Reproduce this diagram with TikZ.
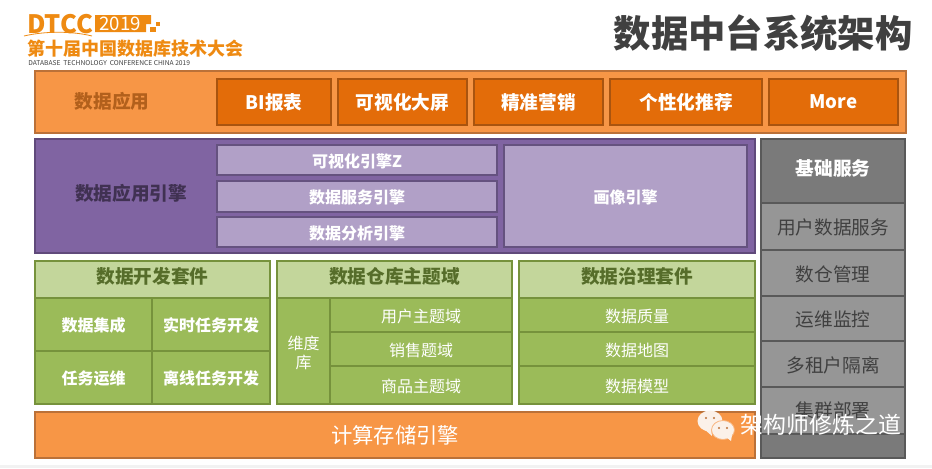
\documentclass[tikz,border=0pt]{standalone}
\usepackage{fontspec}
\setmainfont{Noto Sans CJK SC}
\begin{document}
\begin{tikzpicture}[x=0.75pt,y=-0.75pt,
  outerorange/.style={fill=colOrange, draw=colOrangeDk, line width=1.5pt},
  appbox/.style={fill=colApp, draw=colAppDk, line width=1.5pt, text=white, font=\fontsize{14}{16}\bfseries},
  outerpurple/.style={fill=colPurple, draw=colPurpleDk, line width=1.5pt},
  enginebox/.style={fill=colLilac, draw=colLilacDk, line width=1.5pt, text=white, font=\fontsize{12}{14}\bfseries, nodes={yshift=-0.8pt}},
  headgreen/.style={fill=colGreenLt, draw=colGreenDk, line width=1.5pt, text=colGreenTxt, font=\fontsize{14}{16}\bfseries, nodes={yshift=2pt}},
  cellbold/.style={fill=colGreen, draw=colGreenDk, line width=1.5pt, text=white, font=\fontsize{12}{14}\bfseries, nodes={yshift=-0.8pt}},
  cellplain/.style={fill=colGreen, draw=colGreenDk, line width=1.5pt, text=white, font=\fontsize{12}{14}\selectfont, nodes={yshift=-1.2pt}},
  greybox/.style={fill=colGrey, draw=colGreyDk, line width=1.5pt, text=colGreyTxt, font=\fontsize{14}{16}\selectfont, nodes={yshift=-0.7pt}},
  logotext/.style={text=colLogo, inner sep=0pt, anchor=west}]

% Colours
\definecolor{colOrange}{HTML}{F79646}
\definecolor{colOrangeDk}{HTML}{BB7138}
\definecolor{colOrangeTxt}{HTML}{B2601C}
\definecolor{colApp}{HTML}{E36C09}
\definecolor{colAppDk}{HTML}{A9540F}
\definecolor{colPurple}{HTML}{8064A2}
\definecolor{colPurpleDk}{HTML}{604A7B}
\definecolor{colPurpleTxt}{HTML}{403152}
\definecolor{colLilac}{HTML}{B1A0C7}
\definecolor{colLilacDk}{HTML}{65527F}
\definecolor{colGreen}{HTML}{9BBB59}
\definecolor{colGreenLt}{HTML}{C3D69B}
\definecolor{colGreenDk}{HTML}{76923C}
\definecolor{colGreenTxt}{HTML}{566D2A}
\definecolor{colGrey}{HTML}{969696}
\definecolor{colGreyDk}{HTML}{595959}
\definecolor{colGreyHd}{HTML}{7A7A7A}
\definecolor{colGreyTxt}{HTML}{404040}
\definecolor{colLogo}{HTML}{EE8A12}
\definecolor{colBubble}{HTML}{FBF1E9}

\useasboundingbox (0,0) rectangle (932,468);
\fill[black!5] (0,465) rectangle (932,468);

% Logo
\node[logotext, font=\fontsize{19}{21}\bfseries] (logoName) at (27,24) {DTCC};
\path[fill=colLogo] (95,15) -- (151,15) -- (151,24) -- (146,24) -- (146,32) -- (95,32) -- cycle;
\node[text=white, inner sep=0pt, font=\fontsize{14}{16}\selectfont] (logoYear) at (120,24) {2019};
\fill[colLogo] (150,27) rectangle (156,32);
\fill[colLogo] (156,22) rectangle (160,26);
\draw[colLogo, line width=0.6pt] (24,36) .. controls (45,31) and (72,31) .. (92,36);
\node[logotext, font=\fontsize{13.5}{16}\bfseries] (logoConf) at (27,49) {第十届中国数据库技术大会};
\node[logotext, text=colGreyTxt, font=\fontsize{5}{6}\selectfont] (logoSub) at (28,63) {DATABASE\ \ TECHNOLOGY\ \ CONFERENCE CHINA 2019};

% Title
\node[text=colGreyTxt, inner sep=0pt, font=\fontsize{28}{30}\bfseries] (title) at (763,33) {数据中台系统架构};

% Data applications
\draw[outerorange] (35,71) rectangle (906,133);
\node[text=colOrangeTxt, font=\fontsize{14}{16}\bfseries] (appTitle) at (112,101) {数据应用};
\draw[appbox] (217,79) rectangle node (appBi) {BI报表} (331,125);
\draw[appbox] (338,79) rectangle node (appScreen) {可视化大屏} (467,125);
\draw[appbox] (474,79) rectangle node (appMarket) {精准营销} (603,125);
\draw[appbox] (610,79) rectangle node (appRec) {个性化推荐} (762,125);
\draw[appbox] (769,79) rectangle node (appMore) {More} (898,125);

% Engines
\draw[outerpurple] (35,139) rectangle (755,253);
\node[text=colPurpleTxt, font=\fontsize{14}{16}\bfseries] (engTitle) at (131,193) {数据应用引擎};
\draw[enginebox] (217,145) rectangle node (engVis) {可视化引擎Z} (497,175);
\draw[enginebox] (217,181) rectangle node (engServ) {数据服务引擎} (497,212);
\draw[enginebox] (217,217) rectangle node (engAna) {数据分析引擎} (497,247);
\draw[enginebox] (504,145) rectangle node (engPortrait) {画像引擎} (747,247);

% Development suite
\draw[headgreen] (35,261) rectangle node (devTitle) {数据开发套件} (270,298);
\draw[cellbold] (35,298) rectangle node (devInt) {数据集成} (152,351);
\draw[cellbold] (152,298) rectangle node (devReal) {实时任务开发} (270,351);
\draw[cellbold] (35,351) rectangle node (devOps) {任务运维} (152,404);
\draw[cellbold] (152,351) rectangle node (devOff) {离线任务开发} (270,404);

% Warehouse domains
\draw[headgreen] (277,261) rectangle node (dwTitle) {数据仓库主题域} (512,298);
\draw[cellplain] (277,298) rectangle node[align=center] (dwDim) {维度\\库} (330,404);
\draw[cellplain] (330,298) rectangle node (dwUser) {用户主题域} (512,332);
\draw[cellplain] (330,332) rectangle node (dwSale) {销售题域} (512,366);
\draw[cellplain] (330,366) rectangle node (dwGoods) {商品主题域} (512,404);

% Governance suite
\draw[headgreen] (519,261) rectangle node (govTitle) {数据治理套件} (755,298);
\draw[cellplain] (519,298) rectangle node (govQual) {数据质量} (755,332);
\draw[cellplain] (519,332) rectangle node (govMap) {数据地图} (755,366);
\draw[cellplain] (519,366) rectangle node (govModel) {数据模型} (755,404);

% Compute and storage
\draw[outerorange, text=white, font=\fontsize{16}{18}\selectfont] (35,412) rectangle node (compute) {计算存储引擎} (755,458);

% Basic services
\draw[greybox, fill=colGreyHd, text=white, font=\fontsize{14}{16}\bfseries, nodes={yshift=2.6pt}] (761,139) rectangle node (baseTitle) {基础服务} (905,203);
\draw[greybox] (761,203) rectangle node (baseUser) {用户数据服务} (905,250);
\draw[greybox] (761,250) rectangle node (baseDw) {数仓管理} (905,296);
\draw[greybox] (761,296) rectangle node (baseOps) {运维监控} (905,341);
\draw[greybox] (761,341) rectangle node (baseTenant) {多租户隔离} (905,387);
\draw[greybox, fill=colGreyHd] (761,434) rectangle (905,458);
\draw[greybox] (761,387) rectangle (905,434);
\node[text=colGreyTxt, font=\fontsize{14}{16}\selectfont] (baseDeploy) at (833,410) {集群部署};

% Watermark
\path[fill=colBubble] (710,421) ellipse [x radius=12.5, y radius=10.5];
\path[fill=colBubble] (704,429) -- (712,436) -- (711,428) -- cycle;
\path[fill=colBubble, draw=colOrange!70!white, line width=0.6pt] (723,430) ellipse [x radius=11.5, y radius=9.5];
\path[fill=colBubble] (726,437) -- (731,441) -- (732,435) -- cycle;
\fill[colOrangeDk] (706,418) circle (1.2);
\fill[colOrangeDk] (714,418) circle (1.2);
\fill[colOrangeDk] (719,428) circle (1.2);
\fill[colOrangeDk] (727,428) circle (1.2);
\node[text=white, inner sep=0pt, font=\fontsize{17.2}{20}\selectfont] (wxName) at (821,425) {架构师修炼之道};

\end{tikzpicture}
\end{document}
